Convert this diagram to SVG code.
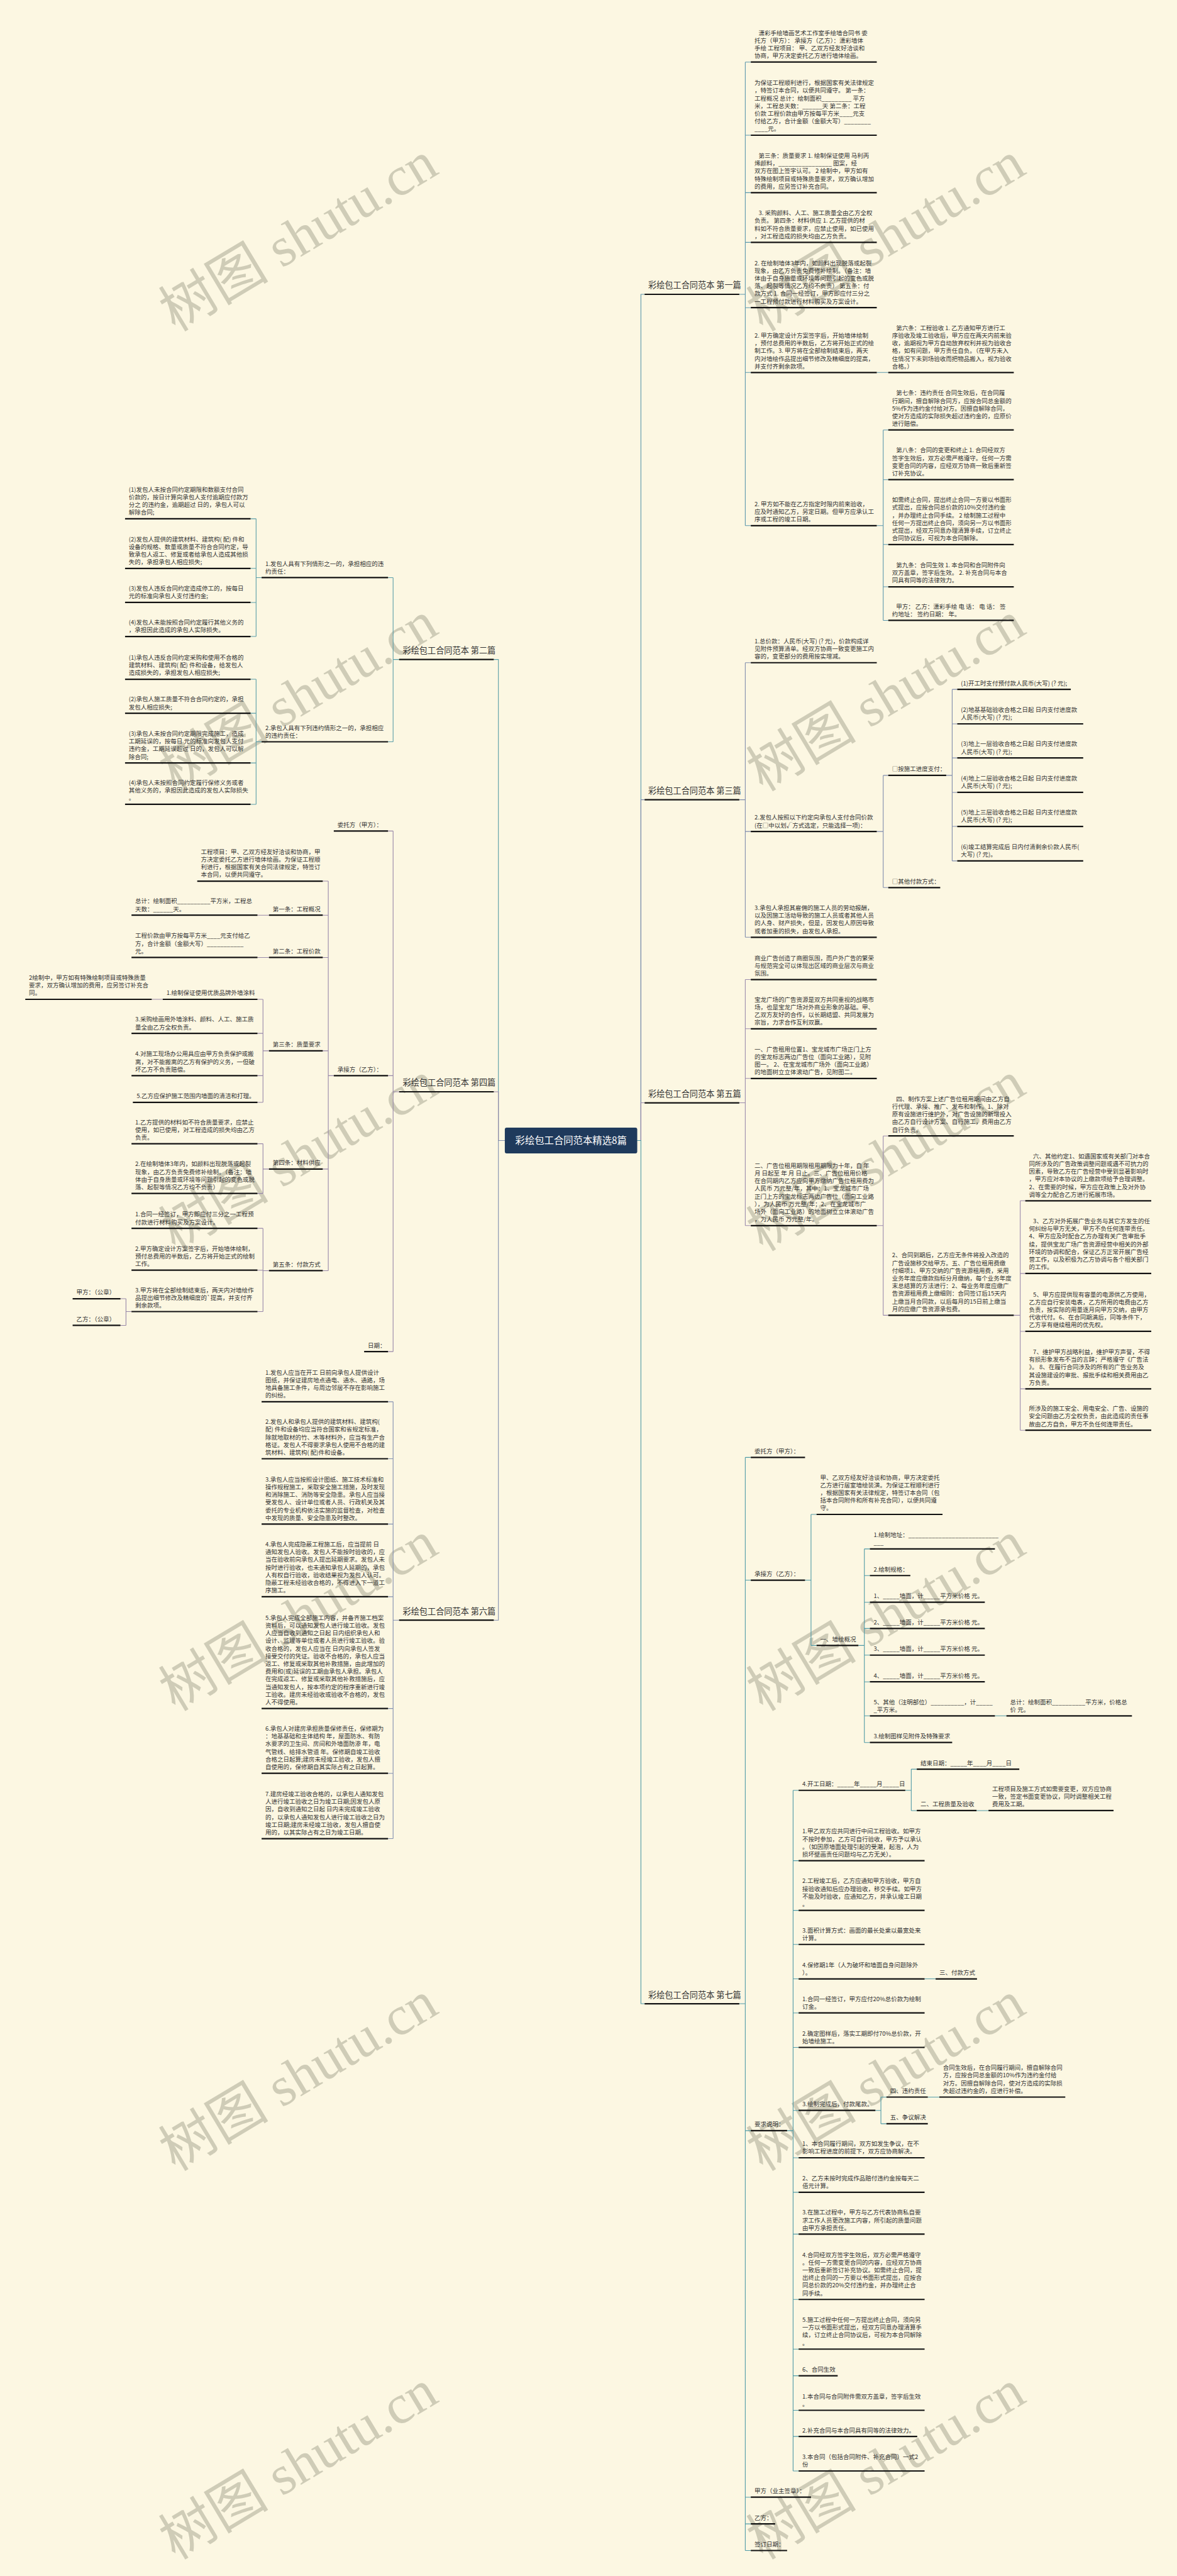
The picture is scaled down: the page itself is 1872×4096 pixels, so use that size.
<svg xmlns="http://www.w3.org/2000/svg" width="1872" height="4096" viewBox="0 0 1872 4096">
<defs>
<style>
.t{font-family:"Noto Sans CJK SC","Noto Sans",sans-serif;font-size:13px;fill:#333}
.b{font-family:"Noto Sans CJK SC","Noto Sans",sans-serif;font-size:18px;fill:#333}
.ct{font-family:"Noto Sans CJK SC","Noto Sans",sans-serif;font-size:21px;fill:#fff}
.u{stroke:#111;stroke-width:3;fill:none}
.c{fill:none;stroke-width:1.5}
.c1{stroke:#5A96AC}.c2{stroke:#5A9EA8}.c3{stroke:#7F8CAC}.c4{stroke:#9787A8}.c5{stroke:#9A8AAC}.c6{stroke:#8290B0}.c7{stroke:#4F9AA6}
.wm{font-family:"Liberation Serif","Noto Sans CJK SC",serif;font-size:120px;fill:#CFCCB7}
</style>
</defs>
<rect x="0" y="0" width="1872" height="4096" fill="#FCF7E2"/>
<g transform="scale(0.73125)">
<g id="watermark">
<text class="wm" text-anchor="middle" transform="translate(649,515) rotate(-31)" y="40">树图 shutu.cn</text>
<text class="wm" text-anchor="middle" transform="translate(1927,515) rotate(-31)" y="40">树图 shutu.cn</text>
<text class="wm" text-anchor="middle" transform="translate(649,1515) rotate(-31)" y="40">树图 shutu.cn</text>
<text class="wm" text-anchor="middle" transform="translate(1927,1515) rotate(-31)" y="40">树图 shutu.cn</text>
<text class="wm" text-anchor="middle" transform="translate(649,2515) rotate(-31)" y="40">树图 shutu.cn</text>
<text class="wm" text-anchor="middle" transform="translate(1927,2515) rotate(-31)" y="40">树图 shutu.cn</text>
<text class="wm" text-anchor="middle" transform="translate(649,3515) rotate(-31)" y="40">树图 shutu.cn</text>
<text class="wm" text-anchor="middle" transform="translate(1927,3515) rotate(-31)" y="40">树图 shutu.cn</text>
<text class="wm" text-anchor="middle" transform="translate(649,4515) rotate(-31)" y="40">树图 shutu.cn</text>
<text class="wm" text-anchor="middle" transform="translate(1927,4515) rotate(-31)" y="40">树图 shutu.cn</text>
<text class="wm" text-anchor="middle" transform="translate(649,5360) rotate(-31)" y="40">树图 shutu.cn</text>
<text class="wm" text-anchor="middle" transform="translate(1927,5360) rotate(-31)" y="40">树图 shutu.cn</text>
</g>

<g id="connectors">
<path class="c c1" d="M1386,2480H1394V640H1402"/>
<path class="c c3" d="M1386,2480H1394V1739H1402"/>
<path class="c c5" d="M1386,2480H1394V2398H1402"/>
<path class="c c7" d="M1386,2480H1394V4357H1402"/>
<path class="c c2" d="M1098,2480H1084V1434H1074"/>
<path class="c c4" d="M1098,2480H1084V2374H1074"/>
<path class="c c6" d="M1098,2480H1084V3523H1074"/>
<path class="c c1" d="M1608,640H1621M1621,135V1143M1621,135H1633M1621,294H1633M1621,419H1633M1621,527H1633M1621,669H1633M1621,810H1633M1621,1143H1633M1907,810H1932M1907,1143H1921M1921,935V1349M1921,935H1932M1921,1043H1932M1921,1184H1932M1921,1276H1932M1921,1349H1932"/>
<path class="c c3" d="M1608,1739H1621M1621,1441V2038M1621,1441H1633M1621,1808H1633M1621,2038H1633M1907,1808H1921M1921,1686V1930M1921,1686H1932M1921,1930H1932M2058,1686H2071M2071,1499V1872M2071,1499H2082M2071,1574H2082M2071,1648H2082M2071,1723H2082M2071,1797H2082M2071,1872H2082"/>
<path class="c c5" d="M1608,2398H1621M1621,2130V2665M1621,2130H1633M1621,2237H1633M1621,2345H1633M1621,2665H1633M1907,2665H1921M1921,2470V2860M1921,2470H1932M1921,2860H1932M2205,2860H2219M2219,2611V3110M2219,2611H2230M2219,2769H2230M2219,2895H2230M2219,3020H2230M2219,3110H2230"/>
<path class="c c7" d="M1608,4357H1621M1621,3169V5546M1621,3169H1633M1621,3436H1633M1621,4633H1633M1621,5430H1633M1621,5488H1633M1621,5546H1633M1751,3436H1764M1764,3293V3578M1764,3293H1776M1764,3578H1776M1867,3578H1880M1880,3368V3789M1880,3368H1892M1880,3426H1892M1880,3484H1892M1880,3541H1892M1880,3599H1892M1880,3657H1892M1880,3731H1892M1880,3789H1892M2164,3731H2189M1712,4633H1725M1725,3893V5373M1725,3893H1737M1725,4046H1737M1725,4154H1737M1725,4228H1737M1725,4303H1737M1725,4377H1737M1725,4452H1737M1725,4589H1737M1725,4692H1737M1725,4767H1737M1725,4858H1737M1725,5000H1737M1725,5108H1737M1725,5166H1737M1725,5241H1737M1725,5298H1737M1725,5373H1737M1969,3893H1982M1982,3847V3937M1982,3847H1994M1982,3937H1994M2124,3937H2150M2011,4303H2035M1904,4589H1916M1916,4560V4618M1916,4560H1928M1916,4618H1928M2018,4560H2043"/>
<path class="c c2" d="M868,1434H855M855,1256V1613M855,1256H844M855,1613H844M569,1256H557M557,1128V1384M557,1128H545M557,1236H545M557,1310H545M557,1384H545M569,1613H557M557,1477V1749M557,1477H545M557,1551H545M557,1659H545M557,1749H545"/>
<path class="c c4" d="M868,2374H855M855,1807V2939M855,1807H844M855,2339H844M855,2939H844M726,2339H714M714,1916V2763M714,1916H702M714,1990H702M714,2082H702M714,2285H702M714,2542H702M714,2763H702M585,1990H560M585,2082H560M585,2285H572M572,2173V2397M572,2173H560M572,2247H560M572,2339H560M572,2397H560M354,2173H330M585,2542H572M572,2487V2595M572,2487H560M572,2595H560M585,2763H572M572,2671V2852M572,2671H560M572,2762H560M572,2852H560M286,2852H274M274,2824V2882M274,2824H262M274,2882H262"/>
<path class="c c6" d="M868,3523H855M855,3048V3998M855,3048H844M855,3172H844M855,3314H844M855,3472H844M855,3715H844M855,3856H844M855,3998H844"/>
</g>

<g id="center"><rect x="1098" y="2452" width="288" height="56" rx="4" fill="#1F3A5C"/><text class="ct" x="1242" y="2488" text-anchor="middle">彩绘包工合同范本精选8篇</text></g>

<g id="b1"><path class="u" d="M1402,640H1608"/><text class="b" x="1410" y="627">彩绘包工合同范本 第一篇</text></g>
<g id="b3"><path class="u" d="M1402,1739H1608"/><text class="b" x="1410" y="1726">彩绘包工合同范本 第三篇</text></g>
<g id="b5"><path class="u" d="M1402,2398H1608"/><text class="b" x="1410" y="2385">彩绘包工合同范本 第五篇</text></g>
<g id="b7"><path class="u" d="M1402,4357H1608"/><text class="b" x="1410" y="4344">彩绘包工合同范本 第七篇</text></g>
<g id="b2"><path class="u" d="M868,1434H1074"/><text class="b" x="876" y="1421">彩绘包工合同范本 第二篇</text></g>
<g id="b4"><path class="u" d="M868,2374H1074"/><text class="b" x="876" y="2361">彩绘包工合同范本 第四篇</text></g>
<g id="b6"><path class="u" d="M868,3523H1074"/><text class="b" x="876" y="3510">彩绘包工合同范本 第六篇</text></g>

<g id="a1"><path class="u" d="M1633,135H1907"/><text class="t" x="1641" y="75.9"><tspan x="1650">潇彩手绘墙画艺术工作室手绘墙合同书 委</tspan><tspan x="1641" dy="16.7">托方（甲方）： 承接方（乙方）：潇彩墙体</tspan><tspan x="1641" dy="16.7">手绘 工程项目： 甲、乙双方经友好洽谈和</tspan><tspan x="1641" dy="16.7">协商，甲方决定委托乙方进行墙体绘画。</tspan></text></g>
<g id="a2"><path class="u" d="M1633,294H1907"/><text class="t" x="1641" y="184.8"><tspan x="1641">为保证工程顺利进行，根据国家有关法律规定</tspan><tspan x="1641" dy="16.7">，特签订本合同，以便共同遵守。 第一条：</tspan><tspan x="1641" dy="16.7">工程概况 总计：绘制面积_________ 平方</tspan><tspan x="1641" dy="16.7">米，工程总天数：______天 第二条：工程</tspan><tspan x="1641" dy="16.7">价款 工程价款由甲方按每平方米____元支</tspan><tspan x="1641" dy="16.7">付给乙方，合计金额（金额大写）________</tspan><tspan x="1641" dy="16.7">____元。</tspan></text></g>
<g id="a3"><path class="u" d="M1633,419H1907"/><text class="t" x="1641" y="343.2"><tspan x="1650">第三条：质量要求 1. 绘制保证使用 马利丙</tspan><tspan x="1641" dy="16.7">烯颜料，________________ 图案，经</tspan><tspan x="1641" dy="16.7">双方在图上签字认可。 2 绘制中，甲方如有</tspan><tspan x="1641" dy="16.7">特殊绘制项目或特殊质量要求，双方确认增加</tspan><tspan x="1641" dy="16.7">的费用，应另签订补充合同。</tspan></text></g>
<g id="a4"><path class="u" d="M1633,527H1907"/><text class="t" x="1641" y="467.9"><tspan x="1650">3. 采购颜料、人工、施工质量全由乙方全权</tspan><tspan x="1641" dy="16.7">负责。 第四条：材料供应 1. 乙方提供的材</tspan><tspan x="1641" dy="16.7">料如不符合质量要求，应禁止使用，如已使用</tspan><tspan x="1641" dy="16.7">，对工程造成的损失均由乙方负责。</tspan></text></g>
<g id="a5"><path class="u" d="M1633,669H1907"/><text class="t" x="1641" y="576.5"><tspan x="1641">2. 在绘制墙体3年内，如颜料出现脱落或起裂</tspan><tspan x="1641" dy="16.7">现象，由乙方负责免费修补绘制。（备注：墙</tspan><tspan x="1641" dy="16.7">体由于自身质量或环境等问题引起的变色或脱</tspan><tspan x="1641" dy="16.7">落、起裂等情况乙方均不负责） 第五条：付</tspan><tspan x="1641" dy="16.7">款方式 1. 合同一经签订，甲方即应付三分之</tspan><tspan x="1641" dy="16.7">一工程预付款进行材料购买及方案设计。</tspan></text></g>
<g id="a6"><path class="u" d="M1633,810H1907"/><text class="t" x="1641" y="734.2"><tspan x="1641">2. 甲方确定设计方案签字后，开始墙体绘制</tspan><tspan x="1641" dy="16.7">，预付总费用的半数后，乙方将开始正式的绘</tspan><tspan x="1641" dy="16.7">制工作。3. 甲方将在全部绘制结束后，两天</tspan><tspan x="1641" dy="16.7">内对墙绘作品提出细节修改及精细度的提高，</tspan><tspan x="1641" dy="16.7">并支付齐剩余款项。</tspan></text></g>
<g id="a6a"><path class="u" d="M1932,810H2205"/><text class="t" x="1940" y="717.5"><tspan x="1949">第六条：工程验收 1. 乙方通知甲方进行工</tspan><tspan x="1940" dy="16.7">序验收及竣工验收后，甲方应在两天内前来验</tspan><tspan x="1940" dy="16.7">收，逾期视为甲方自动放弃权利并视为验收合</tspan><tspan x="1940" dy="16.7">格，如有问题，甲方责任自负。（在甲方未入</tspan><tspan x="1940" dy="16.7">住情况下未到场验收而把物品搬入，视为验收</tspan><tspan x="1940" dy="16.7">合格。）</tspan></text></g>
<g id="a7"><path class="u" d="M1633,1143H1907"/><text class="t" x="1641" y="1100.6"><tspan x="1641">2. 甲方如不能在乙方指定时限内前来验收，</tspan><tspan x="1641" dy="16.7">应及时通知乙方，另定日期。但甲方应承认工</tspan><tspan x="1641" dy="16.7">序或工程的竣工日期。</tspan></text></g>
<g id="a7a"><path class="u" d="M1932,935H2205"/><text class="t" x="1940" y="859.2"><tspan x="1949">第七条：违约责任 合同生效后，在合同履</tspan><tspan x="1940" dy="16.7">行期间，擅自解除合同方，应按合同总金额的</tspan><tspan x="1940" dy="16.7">5%作为违约金付给对方。因擅自解除合同，</tspan><tspan x="1940" dy="16.7">使对方造成的实际损失超过违约金的，应原价</tspan><tspan x="1940" dy="16.7">进行赔偿。</tspan></text></g>
<g id="a7b"><path class="u" d="M1932,1043H2205"/><text class="t" x="1940" y="983.9"><tspan x="1949">第八条：合同的变更和终止 1. 合同经双方</tspan><tspan x="1940" dy="16.7">签字生效后，双方必需严格遵守。任何一方需</tspan><tspan x="1940" dy="16.7">变更合同的内容，应经双方协商一致后重新签</tspan><tspan x="1940" dy="16.7">订补充协议。</tspan></text></g>
<g id="a7c"><path class="u" d="M1932,1184H2205"/><text class="t" x="1940" y="1091.5"><tspan x="1940">如需终止合同，提出终止合同一方要以书面形</tspan><tspan x="1940" dy="16.7">式提出，应按合同总价款的10%交付违约金</tspan><tspan x="1940" dy="16.7">，并办理终止合同手续。 2 绘制施工过程中</tspan><tspan x="1940" dy="16.7">任何一方提出终止合同，须向另一方以书面形</tspan><tspan x="1940" dy="16.7">式提出，经双方同意办理清算手续，订立终止</tspan><tspan x="1940" dy="16.7">合同协议后，可视为本合同解除。</tspan></text></g>
<g id="a7d"><path class="u" d="M1932,1276H2205"/><text class="t" x="1940" y="1233.6"><tspan x="1949">第九条：合同生效 1. 本合同和合同附件向</tspan><tspan x="1940" dy="16.7">双方盖章，签字后生效。 2. 补充合同与本合</tspan><tspan x="1940" dy="16.7">同具有同等的法律效力。</tspan></text></g>
<g id="a7e"><path class="u" d="M1932,1349H2205"/><text class="t" x="1940" y="1323.3"><tspan x="1949">甲方： 乙方：潇彩手绘 电 话： 电 话： 签</tspan><tspan x="1940" dy="16.7">约地址： 签约日期： 年。</tspan></text></g>

<g id="c3a"><path class="u" d="M1633,1441H1907"/><text class="t" x="1641" y="1398.6"><tspan x="1641">1.总价款：人民币(大写) (? 元)，价款构成详</tspan><tspan x="1641" dy="16.7">见附件预算清单。经双方协商一致变更施工内</tspan><tspan x="1641" dy="16.7">容的，变更部分的费用按实增减。</tspan></text></g>
<g id="c3b"><path class="u" d="M1633,1808H1907"/><text class="t" x="1641" y="1782.3"><tspan x="1641">2.发包人按照以下约定向承包人支付合同价款</tspan><tspan x="1641" dy="16.7">(在□中以划√方式选定，只能选择一项)：</tspan></text></g>
<g id="c3b1"><path class="u" d="M1932,1686H2058"/><text class="t" x="1940" y="1677">□按施工进度支付：</text></g>
<g id="c3b1a"><path class="u" d="M2082,1499H2329"/><text class="t" x="2090" y="1490">(1)开工时支付预付款人民币(大写) (? 元);</text></g>
<g id="c3b1b"><path class="u" d="M2082,1574H2356"/><text class="t" x="2090" y="1548.3"><tspan x="2090">(2)地基基础验收合格之日起 日内支付进度款</tspan><tspan x="2090" dy="16.7">人民币(大写) (? 元);</tspan></text></g>
<g id="c3b1c"><path class="u" d="M2082,1648H2356"/><text class="t" x="2090" y="1622.3"><tspan x="2090">(3)地上一层验收合格之日起 日内支付进度款</tspan><tspan x="2090" dy="16.7">人民币(大写) (? 元);</tspan></text></g>
<g id="c3b1d"><path class="u" d="M2082,1723H2356"/><text class="t" x="2090" y="1697.3"><tspan x="2090">(4)地上二层验收合格之日起 日内支付进度款</tspan><tspan x="2090" dy="16.7">人民币(大写) (? 元);</tspan></text></g>
<g id="c3b1e"><path class="u" d="M2082,1797H2356"/><text class="t" x="2090" y="1771.3"><tspan x="2090">(5)地上三层验收合格之日起 日内支付进度款</tspan><tspan x="2090" dy="16.7">人民币(大写) (? 元);</tspan></text></g>
<g id="c3b1f"><path class="u" d="M2082,1872H2356"/><text class="t" x="2090" y="1846.3"><tspan x="2090">(6)竣工结算完成后 日内付清剩余价款人民币(</tspan><tspan x="2090" dy="16.7">大写) (? 元)。</tspan></text></g>
<g id="c3b2"><path class="u" d="M1932,1930H2045"/><text class="t" x="1940" y="1921">□其他付款方式：</text></g>
<g id="c3c"><path class="u" d="M1633,2038H1907"/><text class="t" x="1641" y="1978.9"><tspan x="1641">3.承包人承担其雇佣的施工人员的劳动报酬，</tspan><tspan x="1641" dy="16.7">以及因施工活动导致的施工人员或者其他人员</tspan><tspan x="1641" dy="16.7">的人身、财产损失，但是，因发包人原因导致</tspan><tspan x="1641" dy="16.7">或者加重的损失，由发包人承担。</tspan></text></g>

<g id="c5a"><path class="u" d="M1633,2130H1907"/><text class="t" x="1641" y="2087.6"><tspan x="1641">商业广告创造了商圈氛围，而户外广告的繁荣</tspan><tspan x="1641" dy="16.7">与规范完全可以体现出区域的商业层次与商业</tspan><tspan x="1641" dy="16.7">氛围。</tspan></text></g>
<g id="c5b"><path class="u" d="M1633,2237H1907"/><text class="t" x="1641" y="2177.9"><tspan x="1641">宝龙广场的广告资源是双方共同重视的战略市</tspan><tspan x="1641" dy="16.7">场，也是宝龙广场对外商业形象的基础。甲、</tspan><tspan x="1641" dy="16.7">乙双方友好的合作，以长期结盟、共同发展为</tspan><tspan x="1641" dy="16.7">宗旨，力求合作互利双赢。</tspan></text></g>
<g id="c5c"><path class="u" d="M1633,2345H1907"/><text class="t" x="1641" y="2285.9"><tspan x="1641">一、广告租用位置1、宝龙城市广场正门上方</tspan><tspan x="1641" dy="16.7">的宝龙标志两边广告位（面向工业路），见附</tspan><tspan x="1641" dy="16.7">图一。 2、在宝龙城市广场外（面向工业路）</tspan><tspan x="1641" dy="16.7">的地面树立立体滚动广告，见附图二。</tspan></text></g>
<g id="c5d"><path class="u" d="M1633,2665H1907"/><text class="t" x="1641" y="2539.1"><tspan x="1641">二、广告位租用期限租用期限为十年，自 年</tspan><tspan x="1641" dy="16.7">月 日起至 年 月 日止。三、广告位租用价格</tspan><tspan x="1641" dy="16.7">在合同期内乙方应向甲方缴纳广告位租用费为</tspan><tspan x="1641" dy="16.7">人民币 万元整/年，其中：1、宝龙城市广场</tspan><tspan x="1641" dy="16.7">正门上方的宝龙标志两边广告位（面向工业路</tspan><tspan x="1641" dy="16.7">），为人民币 万元整/年；2、在宝龙城市广</tspan><tspan x="1641" dy="16.7">场外（面向工业路）的地面树立立体滚动广告</tspan><tspan x="1641" dy="16.7">，为人民币 万元整/年。</tspan></text></g>
<g id="c5d1"><path class="u" d="M1932,2470H2205"/><text class="t" x="1940" y="2394.2"><tspan x="1949">四、制作方案上述广告位租用期间由乙方自</tspan><tspan x="1940" dy="16.7">行代理、承接、推广、发布和制作。1、除对</tspan><tspan x="1940" dy="16.7">原有设施进行维护外，对广告设施的新增投入</tspan><tspan x="1940" dy="16.7">由乙方自行设计方案、自行施工，费用由乙方</tspan><tspan x="1940" dy="16.7">自行负责。</tspan></text></g>
<g id="c5d2"><path class="u" d="M1932,2860H2205"/><text class="t" x="1940" y="2734.1"><tspan x="1940">2、合同到期后，乙方应无条件将投入改造的</tspan><tspan x="1940" dy="16.7">广告设施移交给甲方。五、广告位租用费缴</tspan><tspan x="1940" dy="16.7">付细项1、甲方交纳的广告资源租用费，采用</tspan><tspan x="1940" dy="16.7">业务年度应缴款指标分月缴纳，每个业务年度</tspan><tspan x="1940" dy="16.7">末总结算的方法进行：2、每业务年度应缴广</tspan><tspan x="1940" dy="16.7">告资源租用费上缴细则：合同签订后15天内</tspan><tspan x="1940" dy="16.7">上缴当月合同款，以后每月的15日前上缴当</tspan><tspan x="1940" dy="16.7">月的应缴广告资源承包费。</tspan></text></g>
<g id="c5e1"><path class="u" d="M2230,2611H2504"/><text class="t" x="2238" y="2518.5"><tspan x="2247">六、其他约定1、如遇国家或有关部门对本合</tspan><tspan x="2238" dy="16.7">同所涉及的广告政策调整问题或遇不可抗力的</tspan><tspan x="2238" dy="16.7">因素，导致乙方在广告经营中受到显著影响时</tspan><tspan x="2238" dy="16.7">，甲方应对本协议的上缴款项给予合理调整。</tspan><tspan x="2238" dy="16.7">2、在需要的时候，甲方应在政策上及对外协</tspan><tspan x="2238" dy="16.7">调等全力配合乙方进行拓展市场。</tspan></text></g>
<g id="c5e2"><path class="u" d="M2230,2769H2504"/><text class="t" x="2238" y="2659.8"><tspan x="2247">3、乙方对外拓展广告业务与其它方发生的任</tspan><tspan x="2238" dy="16.7">何纠纷与甲方无关，甲方不负任何连带责任。</tspan><tspan x="2238" dy="16.7">4、甲方应及时配合乙方办理有关广告审批手</tspan><tspan x="2238" dy="16.7">续，提供宝龙广场广告资源经营中相关的外部</tspan><tspan x="2238" dy="16.7">环境的协调和配合，保证乙方正常开展广告经</tspan><tspan x="2238" dy="16.7">营工作，以及积极为乙方协调与各个相关部门</tspan><tspan x="2238" dy="16.7">的工作。</tspan></text></g>
<g id="c5e3"><path class="u" d="M2230,2895H2504"/><text class="t" x="2238" y="2819.2"><tspan x="2247">5、甲方应提供现有容量的电源供乙方使用，</tspan><tspan x="2238" dy="16.7">乙方应自行安装电表，乙方所用的电费由乙方</tspan><tspan x="2238" dy="16.7">负责，按实际的用量逐月向甲方交纳，由甲方</tspan><tspan x="2238" dy="16.7">代收代付。6、在合同期满后，同等条件下，</tspan><tspan x="2238" dy="16.7">乙方享有继续租用的优先权。</tspan></text></g>
<g id="c5e4"><path class="u" d="M2230,3020H2504"/><text class="t" x="2238" y="2944.2"><tspan x="2247">7、维护甲方战略利益，维护甲方声誉，不得</tspan><tspan x="2238" dy="16.7">有损形象发布不当的言辞；严格遵守《广告法</tspan><tspan x="2238" dy="16.7">》。 8、在履行合同涉及的所有的广告业务及</tspan><tspan x="2238" dy="16.7">其设施建设的审批、报批手续和相关费用由乙</tspan><tspan x="2238" dy="16.7">方负责。</tspan></text></g>
<g id="c5e5"><path class="u" d="M2230,3110H2504"/><text class="t" x="2238" y="3067.6"><tspan x="2238">所涉及的施工安全、用电安全、广告、设施的</tspan><tspan x="2238" dy="16.7">安全问题由乙方全权负责，由此造成的责任事</tspan><tspan x="2238" dy="16.7">故由乙方自负，甲方不负任何连带责任。</tspan></text></g>

<g id="d1"><path class="u" d="M1633,3169H1751"/><text class="t" x="1641" y="3160">委托方（甲方）：</text></g>
<g id="d2"><path class="u" d="M1633,3436H1751"/><text class="t" x="1641" y="3427">承接方（乙方）：</text></g>
<g id="d2a"><path class="u" d="M1776,3293H2050"/><text class="t" x="1784" y="3217.2"><tspan x="1784">甲、乙双方经友好洽谈和协商，甲方决定委托</tspan><tspan x="1784" dy="16.7">乙方进行居室墙绘装潢。为保证工程顺利进行</tspan><tspan x="1784" dy="16.7">，根据国家有关法律规定，特签订本合同（包</tspan><tspan x="1784" dy="16.7">括本合同附件和所有补充合同），以便共同遵</tspan><tspan x="1784" dy="16.7">守。</tspan></text></g>
<g id="d2b"><path class="u" d="M1776,3578H1867"/><text class="t" x="1784" y="3569">一、墙绘概况</text></g>
<g id="d2b1"><path class="u" d="M1892,3368H2164"/><text class="t" x="1900" y="3342.3"><tspan x="1900">1.绘制地址：___________________________</tspan><tspan x="1900" dy="16.7">___</tspan></text></g>
<g id="d2b2"><path class="u" d="M1892,3426H1980"/><text class="t" x="1900" y="3417">2.绘制规格：</text></g>
<g id="d2b3"><path class="u" d="M1892,3484H2142"/><text class="t" x="1900" y="3475">1、_____墙面，计_____平方米价格 元。</text></g>
<g id="d2b4"><path class="u" d="M1892,3541H2142"/><text class="t" x="1900" y="3532">2、_____墙面，计_____平方米价格 元。</text></g>
<g id="d2b5"><path class="u" d="M1892,3599H2142"/><text class="t" x="1900" y="3590">3、_____墙面，计_____平方米价格 元。</text></g>
<g id="d2b6"><path class="u" d="M1892,3657H2142"/><text class="t" x="1900" y="3648">4、_____墙面，计_____平方米价格 元。</text></g>
<g id="d2b7"><path class="u" d="M1892,3731H2164"/><text class="t" x="1900" y="3705.3"><tspan x="1900">5、其他（注明部位）__________，计_____</tspan><tspan x="1900" dy="16.7">_平方米。</tspan></text></g>
<g id="d2b7a"><path class="u" d="M2189,3731H2462"/><text class="t" x="2197" y="3705.3"><tspan x="2197">总计：绘制面积__________平方米，价格总</tspan><tspan x="2197" dy="16.7">价 元。</tspan></text></g>
<g id="d2b8"><path class="u" d="M1892,3789H2071"/><text class="t" x="1900" y="3780">3.绘制图样见附件及特殊要求</text></g>
<g id="d3"><path class="u" d="M1633,4633H1712"/><text class="t" x="1641" y="4624">要求说明：</text></g>
<g id="e1"><path class="u" d="M1737,3893H1969"/><text class="t" x="1745" y="3884">4.开工日期：_____年_____月_____日</text></g>
<g id="e1a"><path class="u" d="M1994,3847H2217"/><text class="t" x="2002" y="3838">结束日期：_____年____月____日</text></g>
<g id="e1b"><path class="u" d="M1994,3937H2124"/><text class="t" x="2002" y="3928">二、工程质量及验收</text></g>
<g id="e1b1"><path class="u" d="M2150,3937H2422"/><text class="t" x="2158" y="3894.6"><tspan x="2158">工程项目及施工方式如需要变更，双方应协商</tspan><tspan x="2158" dy="16.7">一致，签定书面变更协议，同时调整相关工程</tspan><tspan x="2158" dy="16.7">费用及工期。</tspan></text></g>
<g id="e2"><path class="u" d="M1737,4046H2011"/><text class="t" x="1745" y="3986.9"><tspan x="1745">1.甲乙双方应共同进行中间工程验收。如甲方</tspan><tspan x="1745" dy="16.7">不按时参加，乙方可自行验收，甲方予以承认</tspan><tspan x="1745" dy="16.7">。（如因原墙面处理引起的受潮，起泡，人为</tspan><tspan x="1745" dy="16.7">损坏壁画责任问题均与乙方无关）。</tspan></text></g>
<g id="e3"><path class="u" d="M1737,4154H2011"/><text class="t" x="1745" y="4094.9"><tspan x="1745">2.工程竣工后，乙方应通知甲方验收，甲方自</tspan><tspan x="1745" dy="16.7">接验收通知后应办理验收，移交手续。如甲方</tspan><tspan x="1745" dy="16.7">不能及时验收，应通知乙方，并承认竣工日期</tspan><tspan x="1745" dy="16.7">。</tspan></text></g>
<g id="e4"><path class="u" d="M1737,4228H2011"/><text class="t" x="1745" y="4202.3"><tspan x="1745">3.面积计算方式：画面的最长处乘以最宽处来</tspan><tspan x="1745" dy="16.7">计算。</tspan></text></g>
<g id="e5"><path class="u" d="M1737,4303H2011"/><text class="t" x="1745" y="4277.3"><tspan x="1745">4.保修期1年（人为破坏和墙面自身问题除外</tspan><tspan x="1745" dy="16.7">）。</tspan></text></g>
<g id="e5a"><path class="u" d="M2035,4303H2125"/><text class="t" x="2043" y="4294">三、付款方式</text></g>
<g id="e6"><path class="u" d="M1737,4377H2011"/><text class="t" x="1745" y="4351.3"><tspan x="1745">1.合同一经签订，甲方应付20%总价款为绘制</tspan><tspan x="1745" dy="16.7">订金。</tspan></text></g>
<g id="e7"><path class="u" d="M1737,4452H2011"/><text class="t" x="1745" y="4426.3"><tspan x="1745">2.确定图样后，落实工期即付70%总价款，开</tspan><tspan x="1745" dy="16.7">始墙绘施工。</tspan></text></g>
<g id="e8"><path class="u" d="M1737,4589H1904"/><text class="t" x="1745" y="4580">3.绘制完成后，付款尾款。</text></g>
<g id="e8a"><path class="u" d="M1928,4560H2018"/><text class="t" x="1936" y="4551">四、违约责任</text></g>
<g id="e8a1"><path class="u" d="M2043,4560H2317"/><text class="t" x="2051" y="4500.9"><tspan x="2051">合同生效后，在合同履行期间，擅自解除合同</tspan><tspan x="2051" dy="16.7">方，应按合同总金额的10%作为违约金付给</tspan><tspan x="2051" dy="16.7">对方。因擅自解除合同，使对方造成的实际损</tspan><tspan x="2051" dy="16.7">失超过违约金的，应进行补偿。</tspan></text></g>
<g id="e8b"><path class="u" d="M1928,4618H2018"/><text class="t" x="1936" y="4609">五、争议解决</text></g>
<g id="e9"><path class="u" d="M1737,4692H2011"/><text class="t" x="1745" y="4666.3"><tspan x="1745">1、本合同履行期间，双方如发生争议，在不</tspan><tspan x="1745" dy="16.7">影响工程进度的前提下，双方应协商解决。</tspan></text></g>
<g id="e10"><path class="u" d="M1737,4767H2011"/><text class="t" x="1745" y="4741.3"><tspan x="1745">2、乙方未按时完成作品赔付违约金按每天二</tspan><tspan x="1745" dy="16.7">佰元计算。</tspan></text></g>
<g id="e11"><path class="u" d="M1737,4858H2011"/><text class="t" x="1745" y="4815.6"><tspan x="1745">3.在施工过程中，甲方与乙方代表协商私自要</tspan><tspan x="1745" dy="16.7">求工作人员更改施工内容，所引起的质量问题</tspan><tspan x="1745" dy="16.7">由甲方承担责任。</tspan></text></g>
<g id="e12"><path class="u" d="M1737,5000H2011"/><text class="t" x="1745" y="4907.5"><tspan x="1745">4.合同经双方签字生效后，双方必需严格遵守</tspan><tspan x="1745" dy="16.7">。任何一方需变更合同的内容，应经双方协商</tspan><tspan x="1745" dy="16.7">一致后重新签订补充协议。如需终止合同，提</tspan><tspan x="1745" dy="16.7">出终止合同的一方要以书面形式提出，应按合</tspan><tspan x="1745" dy="16.7">同总价款的20%交付违约金，并办理终止合</tspan><tspan x="1745" dy="16.7">同手续。</tspan></text></g>
<g id="e13"><path class="u" d="M1737,5108H2011"/><text class="t" x="1745" y="5048.9"><tspan x="1745">5.施工过程中任何一方提出终止合同，须向另</tspan><tspan x="1745" dy="16.7">一方以书面形式提出，经双方同意办理清算手</tspan><tspan x="1745" dy="16.7">续，订立终止合同协议后，可视为本合同解除</tspan><tspan x="1745" dy="16.7">。</tspan></text></g>
<g id="e14"><path class="u" d="M1737,5166H1822"/><text class="t" x="1745" y="5157">6、合同生效</text></g>
<g id="e15"><path class="u" d="M1737,5241H2011"/><text class="t" x="1745" y="5215.3"><tspan x="1745">1.本合同与合同附件需双方盖章，签字后生效</tspan><tspan x="1745" dy="16.7">。</tspan></text></g>
<g id="e16"><path class="u" d="M1737,5298H1995"/><text class="t" x="1745" y="5289">2.补充合同与本合同具有同等的法律效力。</text></g>
<g id="e17"><path class="u" d="M1737,5373H2011"/><text class="t" x="1745" y="5347.3"><tspan x="1745">3.本合同（包括合同附件、补充合同）一式2</tspan><tspan x="1745" dy="16.7">份</tspan></text></g>
<g id="d4"><path class="u" d="M1633,5430H1764"/><text class="t" x="1641" y="5421">甲方（业主签章）：</text></g>
<g id="d5"><path class="u" d="M1633,5488H1686"/><text class="t" x="1641" y="5479">乙方：</text></g>
<g id="d6"><path class="u" d="M1633,5546H1712"/><text class="t" x="1641" y="5537">签订日期：</text></g>

<g id="f1"><path class="u" d="M569,1256H844"/><text class="t" x="577" y="1230.3"><tspan x="577">1.发包人具有下列情形之一的，承担相应的违</tspan><tspan x="577" dy="16.7">约责任：</tspan></text></g>
<g id="f1a"><path class="u" d="M272,1128H545"/><text class="t" x="280" y="1068.9"><tspan x="280">(1)发包人未按合同约定期限和数额支付合同</tspan><tspan x="280" dy="16.7">价款的，按日计算向承包人支付逾期应付款万</tspan><tspan x="280" dy="16.7">分之 的违约金，逾期超过 日的，承包人可以</tspan><tspan x="280" dy="16.7">解除合同;</tspan></text></g>
<g id="f1b"><path class="u" d="M272,1236H545"/><text class="t" x="280" y="1176.9"><tspan x="280">(2)发包人提供的建筑材料、建筑构( 配) 件和</tspan><tspan x="280" dy="16.7">设备的规格、数量或质量不符合合同约定，导</tspan><tspan x="280" dy="16.7">致承包人返工、修复或者给承包人造成其他损</tspan><tspan x="280" dy="16.7">失的，承担承包人相应损失;</tspan></text></g>
<g id="f1c"><path class="u" d="M272,1310H545"/><text class="t" x="280" y="1284.3"><tspan x="280">(3)发包人违反合同约定造成停工的，按每日</tspan><tspan x="280" dy="16.7">元的标准向承包人支付违约金;</tspan></text></g>
<g id="f1d"><path class="u" d="M272,1384H545"/><text class="t" x="280" y="1358.3"><tspan x="280">(4)发包人未能按照合同约定履行其他义务的</tspan><tspan x="280" dy="16.7">，承担因此造成的承包人实际损失。</tspan></text></g>
<g id="f2"><path class="u" d="M569,1613H844"/><text class="t" x="577" y="1587.3"><tspan x="577">2.承包人具有下列违约情形之一的，承担相应</tspan><tspan x="577" dy="16.7">的违约责任：</tspan></text></g>
<g id="f2a"><path class="u" d="M272,1477H545"/><text class="t" x="280" y="1434.6"><tspan x="280">(1)承包人违反合同约定采购和使用不合格的</tspan><tspan x="280" dy="16.7">建筑材料、建筑构( 配) 件和设备，给发包人</tspan><tspan x="280" dy="16.7">造成损失的，承担发包人相应损失;</tspan></text></g>
<g id="f2b"><path class="u" d="M272,1551H545"/><text class="t" x="280" y="1525.3"><tspan x="280">(2)承包人施工质量不符合合同约定的，承担</tspan><tspan x="280" dy="16.7">发包人相应损失;</tspan></text></g>
<g id="f2c"><path class="u" d="M272,1659H545"/><text class="t" x="280" y="1599.9"><tspan x="280">(3)承包人未按合同约定期限完成施工，造成</tspan><tspan x="280" dy="16.7">工期延误的，按每日 元的标准向发包人支付</tspan><tspan x="280" dy="16.7">违约金，工期延误超过 日的，发包人可以解</tspan><tspan x="280" dy="16.7">除合同;</tspan></text></g>
<g id="f2d"><path class="u" d="M272,1749H545"/><text class="t" x="280" y="1706.6"><tspan x="280">(4)承包人未按照合同约定履行保修义务或者</tspan><tspan x="280" dy="16.7">其他义务的，承担因此造成的发包人实际损失</tspan><tspan x="280" dy="16.7">。</tspan></text></g>

<g id="g1"><path class="u" d="M726,1807H844"/><text class="t" x="734" y="1798">委托方（甲方）：</text></g>
<g id="g2"><path class="u" d="M726,2339H844"/><text class="t" x="734" y="2330">承接方（乙方）：</text></g>
<g id="h1"><path class="u" d="M429,1916H702"/><text class="t" x="437" y="1856.9"><tspan x="437">工程项目：甲、乙双方经友好洽谈和协商，甲</tspan><tspan x="437" dy="16.7">方决定委托乙方进行墙体绘画。为保证工程顺</tspan><tspan x="437" dy="16.7">利进行，根据国家有关合同法律规定，特签订</tspan><tspan x="437" dy="16.7">本合同，以便共同遵守。</tspan></text></g>
<g id="h2"><path class="u" d="M585,1990H702"/><text class="t" x="593" y="1981">第一条：工程概况</text></g>
<g id="h2a"><path class="u" d="M286,1990H560"/><text class="t" x="294" y="1964.3"><tspan x="294">总计：绘制面积__________平方米，工程总</tspan><tspan x="294" dy="16.7">天数：______天。</tspan></text></g>
<g id="h3"><path class="u" d="M585,2082H702"/><text class="t" x="593" y="2073">第二条：工程价款</text></g>
<g id="h3a"><path class="u" d="M286,2082H560"/><text class="t" x="294" y="2039.6"><tspan x="294">工程价款由甲方按每平方米____元支付给乙</tspan><tspan x="294" dy="16.7">方，合计金额（金额大写）___________</tspan><tspan x="294" dy="16.7">元。</tspan></text></g>
<g id="h4"><path class="u" d="M585,2285H702"/><text class="t" x="593" y="2276">第三条：质量要求</text></g>
<g id="h4a"><path class="u" d="M354,2173H560"/><text class="t" x="362" y="2164">1.绘制保证使用优质品牌外墙涂料</text></g>
<g id="h4a1"><path class="u" d="M55,2173H330"/><text class="t" x="63" y="2130.6"><tspan x="63">2绘制中，甲方如有特殊绘制项目或特殊质量</tspan><tspan x="63" dy="16.7">要求，双方确认增加的费用，应另签订补充合</tspan><tspan x="63" dy="16.7">同。</tspan></text></g>
<g id="h4b"><path class="u" d="M286,2247H560"/><text class="t" x="294" y="2221.3"><tspan x="294">3.采购绘画用外墙涂料、颜料、人工、施工质</tspan><tspan x="294" dy="16.7">量全由乙方全权负责。</tspan></text></g>
<g id="h4c"><path class="u" d="M286,2339H560"/><text class="t" x="294" y="2296.6"><tspan x="294">4.对施工现场办公用具应由甲方负责保护或搬</tspan><tspan x="294" dy="16.7">离，对不能搬离的乙方有保护的义务，一但破</tspan><tspan x="294" dy="16.7">坏乙方不负责赔偿。</tspan></text></g>
<g id="h4d"><path class="u" d="M289,2397H560"/><text class="t" x="297" y="2388">5.乙方应保护施工范围内墙面的清洁和打理。</text></g>
<g id="h5"><path class="u" d="M585,2542H702"/><text class="t" x="593" y="2533">第四条：材料供应</text></g>
<g id="h5a"><path class="u" d="M286,2487H560"/><text class="t" x="294" y="2444.6"><tspan x="294">1.乙方提供的材料如不符合质量要求，应禁止</tspan><tspan x="294" dy="16.7">使用，如已使用，对工程造成的损失均由乙方</tspan><tspan x="294" dy="16.7">负责。</tspan></text></g>
<g id="h5b"><path class="u" d="M286,2595H560"/><text class="t" x="294" y="2535.9"><tspan x="294">2.在绘制墙体3年内，如颜料出现脱落或起裂</tspan><tspan x="294" dy="16.7">现象，由乙方负责免费修补绘制。（备注：墙</tspan><tspan x="294" dy="16.7">体由于自身质量或环境等问题引起的变色或脱</tspan><tspan x="294" dy="16.7">落、起裂等情况乙方均不负责）</tspan></text></g>
<g id="h6"><path class="u" d="M585,2763H702"/><text class="t" x="593" y="2754">第五条：付款方式</text></g>
<g id="h6a"><path class="u" d="M286,2671H560"/><text class="t" x="294" y="2645.3"><tspan x="294">1.合同一经签订，甲方即应付三分之一工程预</tspan><tspan x="294" dy="16.7">付款进行材料购买及方案设计。</tspan></text></g>
<g id="h6b"><path class="u" d="M286,2762H560"/><text class="t" x="294" y="2719.6"><tspan x="294">2.甲方确定设计方案签字后，开始墙体绘制，</tspan><tspan x="294" dy="16.7">预付总费用的半数后，乙方将开始正式的绘制</tspan><tspan x="294" dy="16.7">工作。</tspan></text></g>
<g id="h6c"><path class="u" d="M286,2852H560"/><text class="t" x="294" y="2809.6"><tspan x="294">3.甲方将在全部绘制结束后，两天内对墙绘作</tspan><tspan x="294" dy="16.7">品提出细节修改及精细度的`提高，并支付齐</tspan><tspan x="294" dy="16.7">剩余款项。</tspan></text></g>
<g id="h6c1"><path class="u" d="M158,2824H262"/><text class="t" x="166" y="2815">甲方：（公章）</text></g>
<g id="h6c2"><path class="u" d="M158,2882H262"/><text class="t" x="166" y="2873">乙方：（公章）</text></g>
<g id="g3"><path class="u" d="M792,2939H844"/><text class="t" x="800" y="2930">日期：</text></g>

<g id="k1"><path class="u" d="M569,3048H844"/><text class="t" x="577" y="2988.9"><tspan x="577">1.发包人应当在开工 日前向承包人提供设计</tspan><tspan x="577" dy="16.7">图纸，并保证建房地点通电、通水、通路，场</tspan><tspan x="577" dy="16.7">地具备施工条件，与周边邻居不存在影响施工</tspan><tspan x="577" dy="16.7">的纠纷。</tspan></text></g>
<g id="k2"><path class="u" d="M569,3172H844"/><text class="t" x="577" y="3096.2"><tspan x="577">2.发包人和承包人提供的建筑材料、建筑构(</tspan><tspan x="577" dy="16.7">配) 件和设备均应当符合国家和省规定标准，</tspan><tspan x="577" dy="16.7">除就地取材的竹、木等材料外，应当有生产合</tspan><tspan x="577" dy="16.7">格证。发包人不得要求承包人使用不合格的建</tspan><tspan x="577" dy="16.7">筑材料、建筑构( 配)件和设备。</tspan></text></g>
<g id="k3"><path class="u" d="M569,3314H844"/><text class="t" x="577" y="3221.5"><tspan x="577">3.承包人应当按照设计图纸、施工技术标准和</tspan><tspan x="577" dy="16.7">操作规程施工，采取安全施工措施，及时发现</tspan><tspan x="577" dy="16.7">和消除施工、消防等安全隐患。承包人应当接</tspan><tspan x="577" dy="16.7">受发包人、设计单位或者人员、行政机关及其</tspan><tspan x="577" dy="16.7">委托的专业机构依法实施的监督检查，对检查</tspan><tspan x="577" dy="16.7">中发现的质量、安全隐患及时整改。</tspan></text></g>
<g id="k4"><path class="u" d="M569,3472H844"/><text class="t" x="577" y="3362.8"><tspan x="577">4.承包人完成隐蔽工程施工后，应当提前 日</tspan><tspan x="577" dy="16.7">通知发包人验收。发包人不能按时验收的，应</tspan><tspan x="577" dy="16.7">当在验收前向承包人提出延期要求。发包人未</tspan><tspan x="577" dy="16.7">按时进行验收，也未通知承包人延期的，承包</tspan><tspan x="577" dy="16.7">人有权自行验收，验收结果视为发包人认可。</tspan><tspan x="577" dy="16.7">隐蔽工程未经验收合格的，不得进入下一道工</tspan><tspan x="577" dy="16.7">序施工。</tspan></text></g>
<g id="k5"><path class="u" d="M569,3715H844"/><text class="t" x="577" y="3522.3"><tspan x="577">5.承包人完成全部施工内容，并备齐施工档案</tspan><tspan x="577" dy="16.7">资料后，可以通知发包人进行竣工验收。发包</tspan><tspan x="577" dy="16.7">人应当自收到通知之日起 日内组织承包人和</tspan><tspan x="577" dy="16.7">设计、监理等单位或者人员进行竣工验收。验</tspan><tspan x="577" dy="16.7">收合格的，发包人应当在 日内向承包人签发</tspan><tspan x="577" dy="16.7">接受交付的凭证。验收不合格的，承包人应当</tspan><tspan x="577" dy="16.7">返工、修复或采取其他补救措施，由此增加的</tspan><tspan x="577" dy="16.7">费用和(或)延误的工期由承包人承担。承包人</tspan><tspan x="577" dy="16.7">在完成返工、修复或采取其他补救措施后，应</tspan><tspan x="577" dy="16.7">当通知发包人，按本项约定的程序重新进行竣</tspan><tspan x="577" dy="16.7">工验收。建房未经验收或验收不合格的，发包</tspan><tspan x="577" dy="16.7">人不得使用。</tspan></text></g>
<g id="k6"><path class="u" d="M569,3856H844"/><text class="t" x="577" y="3763.5"><tspan x="577">6.承包人对建房承担质量保修责任，保修期为</tspan><tspan x="577" dy="16.7">：地基基础和主体结构 年，屋面防水、有防</tspan><tspan x="577" dy="16.7">水要求的卫生间、房间和外墙面防渗 年，电</tspan><tspan x="577" dy="16.7">气管线、给排水管道 年。保修期自竣工验收</tspan><tspan x="577" dy="16.7">合格之日起算;建房未经竣工验收，发包人擅</tspan><tspan x="577" dy="16.7">自使用的，保修期自其实际占有之日起算。</tspan></text></g>
<g id="k7"><path class="u" d="M569,3998H844"/><text class="t" x="577" y="3905.5"><tspan x="577">7.建房经竣工验收合格的，以承包人通知发包</tspan><tspan x="577" dy="16.7">人进行竣工验收之日为竣工日期;因发包人原</tspan><tspan x="577" dy="16.7">因，自收到通知之日起 日内未完成竣工验收</tspan><tspan x="577" dy="16.7">的，以承包人通知发包人进行竣工验收之日为</tspan><tspan x="577" dy="16.7">竣工日期;建房未经竣工验收，发包人擅自使</tspan><tspan x="577" dy="16.7">用的，以其实际占有之日为竣工日期。</tspan></text></g>
</g>
</svg>
